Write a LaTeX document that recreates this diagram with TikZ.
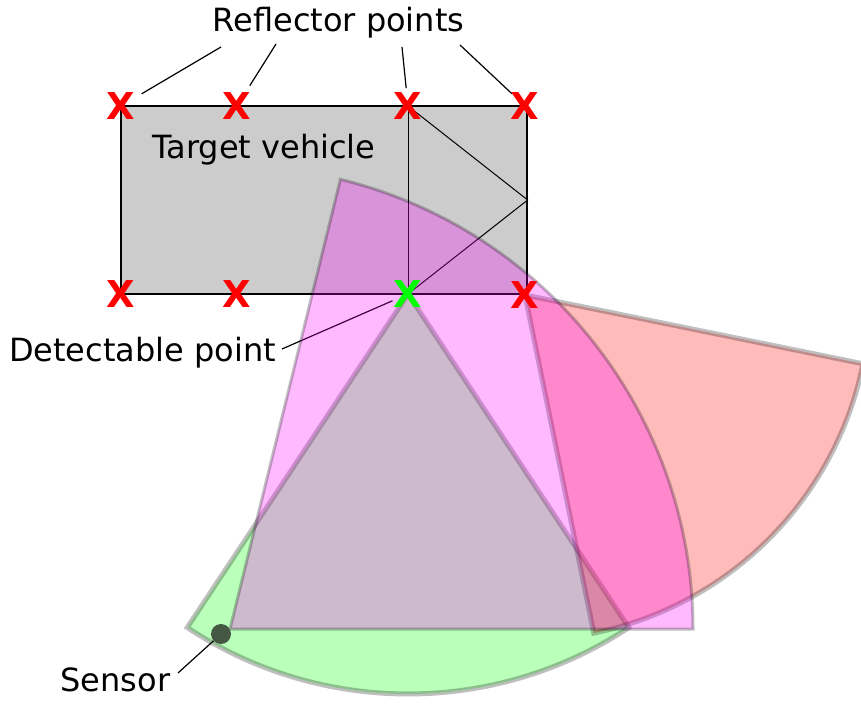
\documentclass[tikz,border=0pt]{standalone}
\usepackage{fontspec}
\setmainfont{DejaVu Sans}
\usetikzlibrary{calc}
\definecolor{sensorgray}{RGB}{68,88,68}
\definecolor{lobegreen}{RGB}{0,255,0}
\definecolor{lobered}{RGB}{255,0,0}
\definecolor{fovmagenta}{RGB}{255,0,255}

\begin{document}
\begin{tikzpicture}[
    x=1pt, y=1pt,
    font=\fontsize{32}{38}\selectfont,
    vehicle/.style={rectangle, draw, line width=1.3pt, fill=black!20, minimum width=406pt, minimum height=188pt, inner sep=0pt},
    reflector/.style={text=lobered, font=\fontsize{37}{37}\selectfont\bfseries, inner sep=0pt},
    lobe/.style={draw=black, draw opacity=0.25, fill opacity=0.27, line width=5pt},
    leader/.style={line width=1.2pt},
    ray/.style={line width=1pt}
]
\useasboundingbox (0,0) rectangle (861,704);
\clip (0,0) rectangle (861,704);

% Vehicle body
\node[vehicle] (car) at (324,504) {};
\node[anchor=base] (carlabel) at (264,545) {Target vehicle};

% Reflector positions
\coordinate (t1) at (121,598);
\coordinate (t2) at (237,598);
\coordinate (t3) at (408,598);
\coordinate (t4) at (525,598);
\coordinate (b1) at (121,410);
\coordinate (b2) at (237,410);
\coordinate (b3) at (408,410);
\coordinate (b4) at (525,409);

% Direct and mirrored paths
\draw[ray] (t3) -- (b3);
\draw[ray] (t3) -- (car.east) -- (b3);

% Labels
\node[anchor=base] (reflabel) at (338.5,672) {Reflector points};
\node[anchor=base] (detlabel) at (142.5,342) {Detectable point};
\node[anchor=base] (senlabel) at (115.5,13) {Sensor};

% Leader lines
\coordinate (r1) at (221,657);
\coordinate (r2) at (276,660);
\coordinate (r3) at (402,657);
\coordinate (r4) at (460,659);
\coordinate (d0) at (282,355);
\coordinate (s0) at (178,31);
\draw[leader, shorten >=24pt] (r1) -- (t1);
\draw[leader, shorten >=24pt] (r2) -- (t2);
\draw[leader, shorten >=18pt] (r3) -- (t3);
\draw[leader, shorten >=18pt] (r4) -- (t4);
\draw[leader, shorten >=17pt] (d0) -- (b3);

% Reflection lobes and sensor field of view
\coordinate (fov) at (230,75);
\path[lobe, fill=lobegreen] (b3) -- ++(236.5:400) arc[start angle=236.5, end angle=303.5, radius=400] -- cycle;
\path[lobe, fill=lobered] (b4) -- ++(-78.5:345) arc[start angle=-78.5, end angle=-11.5, radius=345] -- cycle;
\path[lobe, fill=fovmagenta, line width=3pt] (fov) -- ++(0:463) arc[start angle=0, end angle=76.2, radius=463] -- cycle;

% Sensor
\node[circle, fill=sensorgray, minimum size=20pt, inner sep=0pt] (sensor) at (221,70) {};
\draw[leader] (s0) -- (sensor);

% Reflector marks
\node[reflector] (xt1) at (t1) {X};
\node[reflector] (xt2) at (t2) {X};
\node[reflector] (xt3) at (t3) {X};
\node[reflector] (xt4) at (t4) {X};
\node[reflector] (xb1) at (b1) {X};
\node[reflector] (xb2) at (b2) {X};
\node[reflector, text=lobegreen] (xb3) at (b3) {X};
\node[reflector] (xb4) at (b4) {X};

\end{tikzpicture}
\end{document}
